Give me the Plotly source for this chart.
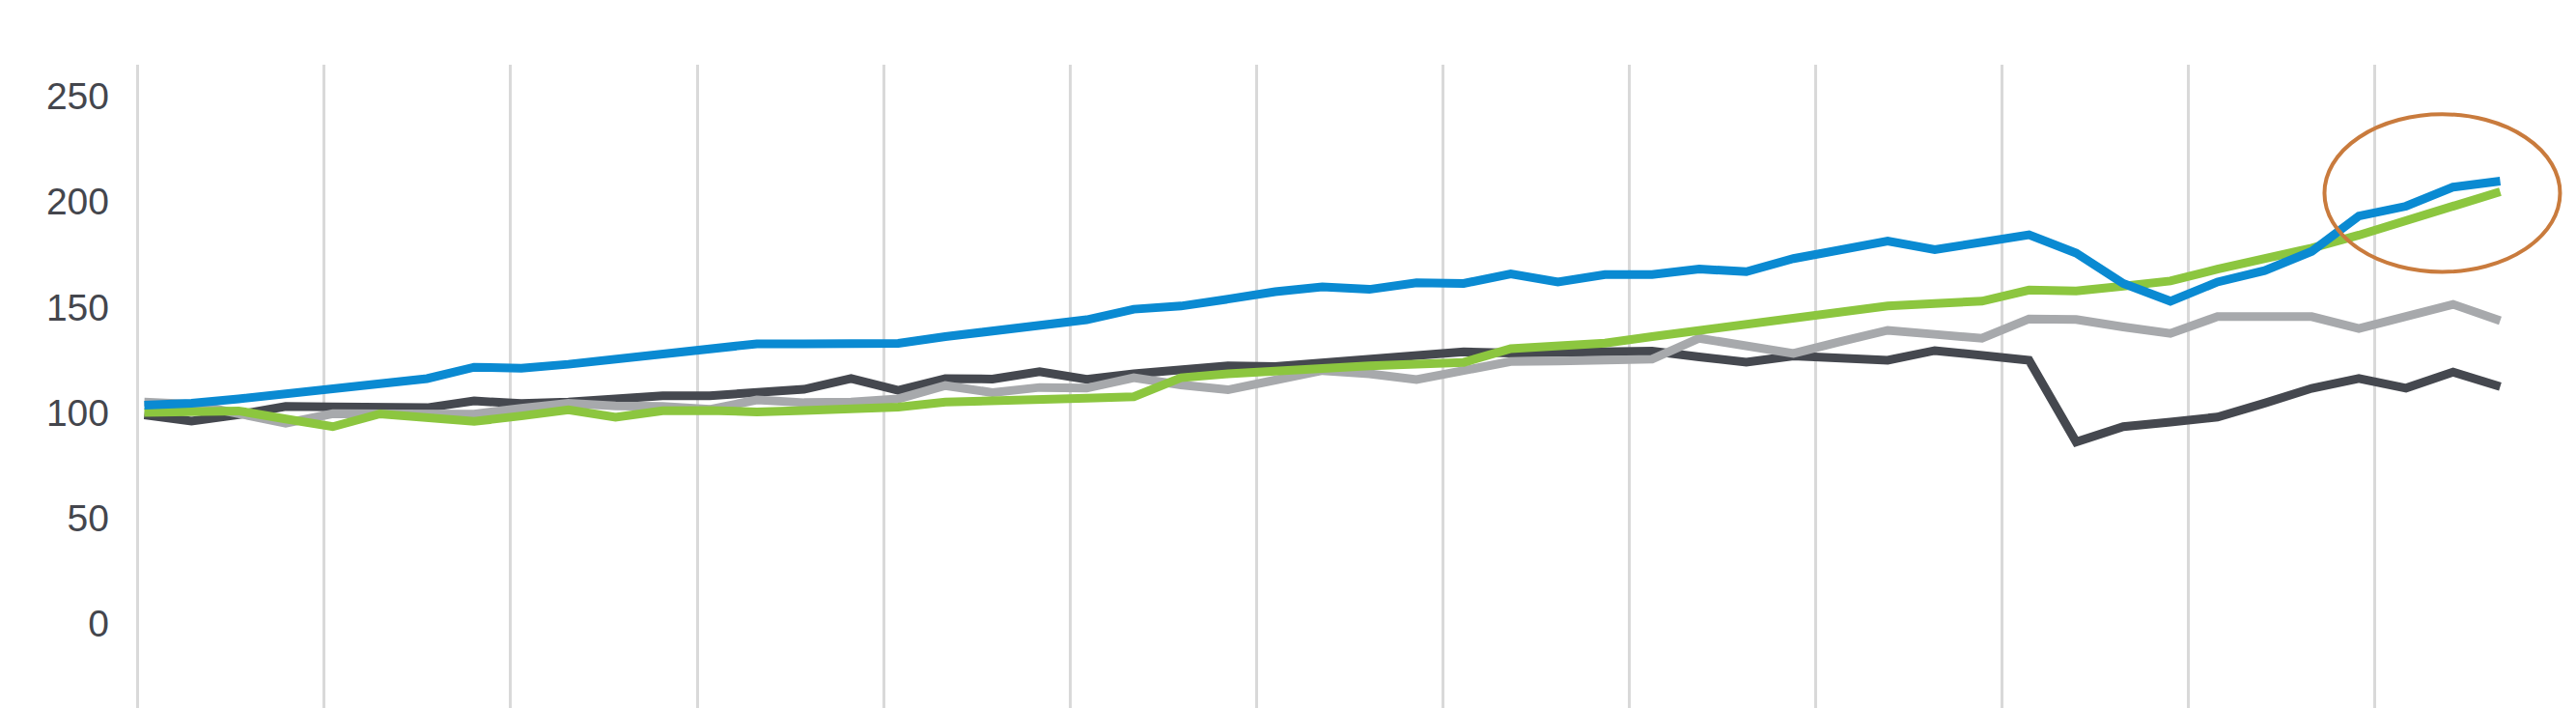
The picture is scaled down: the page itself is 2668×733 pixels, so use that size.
import plotly.graph_objects as go

# Period index (quarterly observations, 51 points)
periods = list(range(51))

blue_series = [103.5, 104.4, 106.5, 109.0, 111.1, 113.4, 116.1, 121.5, 121.0, 122.9,
               125.3, 127.7, 130.2, 132.6, 132.6, 132.5, 132.8, 136.0, 138.6, 141.2,
               144.0, 149.0, 150.5, 153.8, 157.3, 159.6, 158.4, 161.5, 161.2, 165.7,
               161.9, 165.4, 165.4, 168.0, 166.8, 173.0, 176.7, 181.3, 177.2, 181.0,
               184.3, 175.6, 161.2, 152.8, 161.9, 167.3, 176.4, 193.2, 197.8, 206.9,
               209.7]

green_series = [100.1, 100.5, 100.8, 97.0, 93.3, 99.4, 97.5, 95.8, 98.4, 101.3,
                97.8, 100.9, 101.0, 100.3, 101.0, 101.5, 102.6, 105.0, 105.3, 106.0,
                106.8, 107.5, 116.5, 118.4, 120.0, 121.5, 122.2, 123.0, 123.8, 130.3,
                131.4, 132.9, 136.0, 139.0, 142.1, 144.7, 147.4, 150.5, 151.7, 152.8,
                158.1, 157.6, 159.9, 162.4, 168.0, 172.6, 178.0, 184.1, 190.9, 197.0,
                204.7]

gray_series = [105.0, 104.0, 99.5, 95.0, 99.5, 99.4, 99.4, 99.3, 102.0, 104.4,
               103.2, 102.9, 101.5, 106.0, 104.7, 105.0, 106.5, 112.8, 109.5, 111.9,
               111.6, 116.5, 113.1, 110.8, 115.4, 119.9, 118.4, 115.7, 119.9, 124.2,
               124.5, 124.8, 125.3, 135.2, 131.4, 128.0, 133.7, 139.0, 137.1, 135.2,
               144.4, 144.1, 140.6, 137.5, 145.5, 145.5, 145.5, 139.8, 145.9, 151.3,
               143.6]

dark_series = [98.9, 96.0, 99.0, 102.9, 102.7, 102.6, 102.3, 105.5, 104.3, 105.0,
               106.4, 108.0, 108.0, 109.6, 111.0, 116.1, 110.5, 116.1, 115.9, 119.4,
               115.8, 118.4, 120.0, 122.2, 121.8, 123.8, 125.6, 127.3, 128.8, 128.2,
               128.4, 128.7, 129.1, 126.4, 123.9, 126.8, 125.6, 124.8, 129.4, 127.6,
               124.8, 86.1, 93.3, 95.5, 97.9, 104.5, 111.5, 116.2, 111.6, 119.2,
               112.3]

y_ticks = [0, 50, 100, 150, 200, 250]

# highlighted region (recent periods of the blue/green series)
highlight_x = [46.27, 51.27]
highlight_y = [166.7, 241.4]

colors = {
    "dark": "#45484f",
    "gray": "#a7a9ac",
    "green": "#8cc63f",
    "blue": "#0a8ad2",
}

fig = go.Figure()
for name, ys in [("dark", dark_series), ("gray", gray_series),
                 ("green", green_series), ("blue", blue_series)]:
    fig.add_trace(go.Scatter(
        x=periods, y=ys, mode="lines", name=name,
        line=dict(color=colors[name], width=9, shape="linear"),
        hoverinfo="skip",
    ))

fig.add_shape(type="circle", xref="x", yref="y",
              x0=highlight_x[0], x1=highlight_x[1],
              y0=highlight_y[0], y1=highlight_y[1],
              line=dict(color="#c97b3d", width=4))

# vertical gridlines (one per year, slightly less than 4 periods apart)
grid_start = -0.139
grid_step = 3.957
grid_vals = [grid_start + k * grid_step for k in range(13)]

W, H = 2668, 733
L, R, T, B = 120, 8, 67, 0
px_first = 149.5
px_step = 48.8
x_min = (L - px_first) / px_step
x_max = (W - R - px_first) / px_step

fig.update_layout(
    width=W, height=H,
    margin=dict(l=L, r=R, t=T, b=B, pad=0),
    paper_bgcolor="white", plot_bgcolor="white",
    showlegend=False,
    font=dict(family="Liberation Sans, Arial, sans-serif", color="#404040"),
    xaxis=dict(
        range=[x_min, x_max], tickvals=grid_vals, showticklabels=False,
        showgrid=True, gridcolor="#d9d9d9", gridwidth=2.5,
        zeroline=False, showline=False, ticks="",
    ),
    yaxis=dict(
        range=[-40.05, 264.9], tickvals=y_ticks,
        tickfont=dict(size=39, color="#44464d",
                      family="Liberation Sans, Arial, sans-serif"),
        showgrid=False, zeroline=False, showline=False, ticks="",
        ticklabelstandoff=6,
    ),
)

fig.write_html(
    "out.html",
    config={"displayModeBar": False},
    post_script="document.body.style.margin='0';document.body.style.overflow='hidden';",
)
